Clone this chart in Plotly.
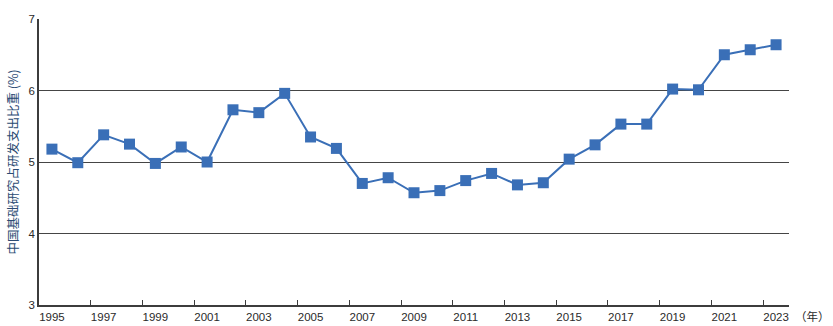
import plotly.graph_objects as go

# Share of basic research in China's total R&D expenditure (%)
years = list(range(1995, 2024))
share = [5.18, 4.99, 5.38, 5.25, 4.98, 5.21, 5.00, 5.73, 5.69, 5.96,
         5.35, 5.19, 4.70, 4.78, 4.57, 4.60, 4.74, 4.84, 4.68, 4.71,
         5.04, 5.24, 5.53, 5.53, 6.02, 6.01, 6.50, 6.57, 6.64]
y_ticks = [3, 4, 5, 6, 7]

line_color = "#3a6fb7"
axis_color = "#3c3c3c"
font_family = "Liberation Sans, Arial, sans-serif"

fig = go.Figure()
fig.add_trace(go.Scatter(
    x=[str(y) for y in years],
    y=share,
    mode="lines+markers",
    line=dict(color=line_color, width=2),
    marker=dict(symbol="square", size=11, color=line_color),
    hoverinfo="x+y",
))

fig.update_layout(
    width=833, height=326,
    margin=dict(l=39, r=44, t=19, b=21),
    paper_bgcolor="white",
    plot_bgcolor="white",
    showlegend=False,
    font=dict(family=font_family, size=11, color="#333333"),
    xaxis=dict(
        type="category",
        tickmode="linear", tick0=0, dtick=2,
        tickson="boundaries",
        tickangle=0,
        ticks="inside", ticklen=5, tickcolor=axis_color, tickwidth=1,
        showgrid=False,
        showline=True, linecolor=axis_color, linewidth=1.5,
        tickfont=dict(size=11.5, color="#2a2a2a"),
        ticklabelstandoff=0,
        automargin=False,
        range=[-0.5, len(years) - 0.5],
        fixedrange=True,
    ),
    yaxis=dict(
        range=[3, 7],
        tickvals=y_ticks,
        ticks="",
        showgrid=True, gridcolor="#454545", gridwidth=1.4,
        showline=True, linecolor=axis_color, linewidth=1.5,
        zeroline=False,
        tickfont=dict(size=11.5, color="#2a2a2a"),
        automargin=False,
        title=dict(
            text="中国基础研究占研发支出比重 (%)",
            font=dict(family="Noto Sans CJK SC", size=12.5, color="#2b4b73"),
            standoff=7,
        ),
        fixedrange=True,
    ),
)

fig.add_annotation(
    text="（年）", xref="paper", yref="paper",
    x=1, y=0, xanchor="left", yanchor="top",
    xshift=4, yshift=-1, showarrow=False,
    font=dict(family="Noto Sans CJK SC", size=11.5, color="#2a2a2a"),
)

fig.write_html("out.html")
